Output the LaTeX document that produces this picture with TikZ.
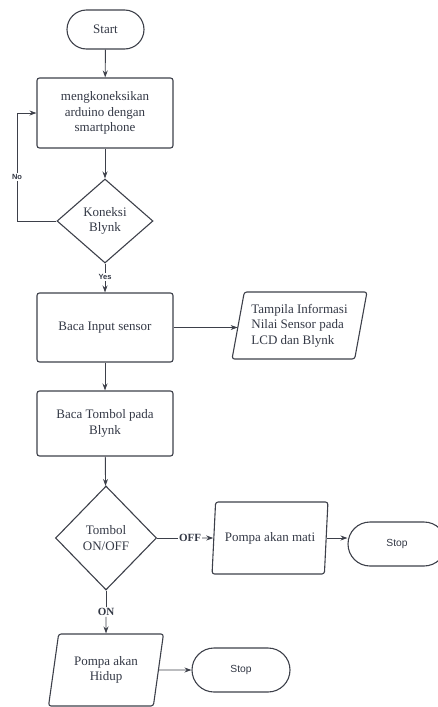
\documentclass[tikz,border=0pt]{standalone}
\usepackage{fontspec}
\setmainfont{Liberation Serif}
\setsansfont{Liberation Sans}
\usetikzlibrary{shapes.geometric, shapes.misc, arrows.meta}

\definecolor{garis}{rgb}{0.24,0.25,0.29}
\definecolor{teks}{rgb}{0.2,0.22,0.27}

\begin{document}
\begin{tikzpicture}[
        x=1pt, y=-1pt,
        every node/.style={text=teks, font=\fontsize{13}{15.5}\selectfont, align=center},
        terminal/.style={rounded rectangle, draw=garis, line width=1.1pt, inner sep=0pt},
        proses/.style={rectangle, draw=garis, line width=1.1pt, rounded corners=2.5pt, minimum width=136pt, inner sep=0pt},
        keputusan/.style={diamond, draw=garis, line width=1.1pt, inner sep=0pt},
        io/.style={trapezium, trapezium left angle=76, trapezium right angle=104, trapezium stretches=true,
                   draw=garis, line width=1.1pt, rounded corners=2.5pt, inner sep=0pt},
        label/.style={fill=white, inner sep=1pt},
        panah/.style={draw=garis, line width=0.9pt, -{Stealth[length=7pt, width=5pt]}}
        ]
        \useasboundingbox (0,0) rectangle (437,707);

        \node [terminal, minimum width=77pt, minimum height=39pt] (start) at (105.5,29.5) {Start};
        \node [proses, minimum height=70pt] (koneksi) at (105,113) {mengkoneksikan\\arduino dengan\\smartphone};
        \node [keputusan, minimum width=96pt, minimum height=84pt] (cekblynk) at (105,221) {Koneksi\\Blynk};
        \node [proses, minimum height=69pt] (sensor) at (105,327.5) {Baca Input sensor};
        \node [io, minimum width=135pt, minimum height=67pt, align=left] (info) at (299.5,325.5) {Tampila Informasi\\Nilai Sensor pada\\LCD dan Blynk};
        \node [proses, minimum height=65pt] (tombol) at (105,423.5) {Baca Tombol pada\\Blynk};
        \node [keputusan, minimum width=101pt, minimum height=104pt] (onoff) at (106,538) {Tombol\\ON/OFF};
        \node [io, minimum width=116pt, minimum height=72pt] (mati) at (270,538) {Pompa akan mati};
        \node [terminal, minimum width=98pt, minimum height=44pt, font=\sffamily\fontsize{10.3}{12}\selectfont] (stop1) at (397,544) {Stop};
        \node [io, minimum width=115pt, minimum height=72pt] (hidup) at (106,670) {Pompa akan\\Hidup};
        \node [terminal, minimum width=98pt, minimum height=44pt, font=\sffamily\fontsize{10.3}{12}\selectfont] (stop2) at (241,670) {Stop};

        % label cabang
        \node [label, font=\sffamily\bfseries\fontsize{7.5}{9}\selectfont] (no) at (17,177) {No};
        \node [label, font=\sffamily\bfseries\fontsize{7.5}{9}\selectfont] (yes) at (105,277) {Yes};
        \node [label, font=\bfseries\fontsize{11}{13}\selectfont] (off) at (190,538) {OFF};
        \node [label, font=\bfseries\fontsize{11}{13}\selectfont] (on) at (106,612) {ON};

        \draw[panah] (start) -- (koneksi);
        \draw[panah] (koneksi) -- (cekblynk);
        \draw[draw=garis, line width=0.9pt] (cekblynk.west) -| (no.south);
        \draw[panah] (no.north) |- (koneksi.west);
        \draw[draw=garis, line width=0.9pt] (cekblynk.south) -- (yes.north);
        \draw[panah] (yes.south) -- (sensor.north);
        \draw[panah] (sensor.east) -- (sensor.east -| info.west);
        \draw[panah] (sensor) -- (tombol);
        \draw[panah] (tombol) -- (onoff);
        \draw[draw=garis, line width=0.9pt] (onoff.east) -- (off.west);
        \draw[panah] (off.east) -- (mati.west);
        \draw[panah] (mati.east) -- (mati.east -| stop1.west);
        \draw[draw=garis, line width=0.9pt] (onoff.south) -- (on.north);
        \draw[panah] (on.south) -- (hidup.north);
        \draw[panah] (hidup.east) -- (stop2.west);
    \end{tikzpicture}
\end{document}
